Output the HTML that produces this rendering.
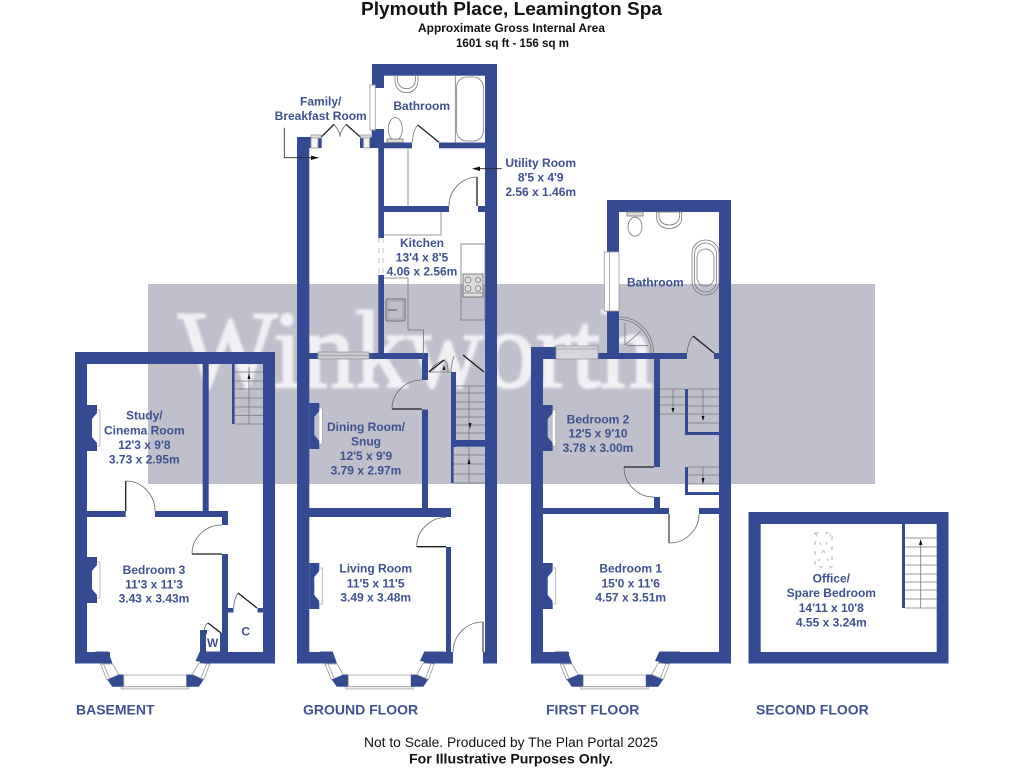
<!DOCTYPE html>
<html><head><meta charset="utf-8">
<style>
html,body{margin:0;padding:0;background:#fff;width:1024px;height:768px;overflow:hidden}
svg{display:block;filter:blur(.35px)}
.r{font:bold 12px "Liberation Sans",sans-serif;fill:#3e5191;text-anchor:middle}
.f{font:bold 14px "Liberation Sans",sans-serif;fill:#3e5191}
.t{font-family:"Liberation Sans",sans-serif;fill:#111;text-anchor:middle}
</style></head><body>
<svg width="1024" height="768" viewBox="0 0 1024 768" xmlns="http://www.w3.org/2000/svg">
<defs>
<filter id="b" x="-5%" y="-5%" width="110%" height="110%"><feGaussianBlur stdDeviation="1.2"/></filter>
<g id="bay">
 <polygon points="332.7,651.5 337,663.5 320,663.5 320,651.5" fill="#344b94"/>
 <polygon points="325,664 337,664 343.5,675 331.5,680" fill="#fff" stroke="#999" stroke-width=".8"/>
 <line x1="328" y1="664" x2="334" y2="678" stroke="#999" stroke-width=".8"/>
 <polygon points="331.7,679.5 343.5,674.5 348.3,674.5 348.3,686.7 336.7,686.7" fill="#344b94"/>
 <rect x="348.3" y="675" width="62.7" height="11.7" fill="#fff" stroke="#aaa" stroke-width=".8"/>
 <rect x="345.7" y="686.7" width="67.6" height="2.3" fill="#eee" stroke="#999" stroke-width=".7"/>
 <polygon points="411,674.5 416.7,674.5 428.3,679.5 423.3,686.7 411,686.7" fill="#344b94"/>
 <polygon points="416.7,674.5 423.3,663 434.3,664 428.3,679.5" fill="#fff" stroke="#999" stroke-width=".8"/>
 <line x1="431" y1="664" x2="425.5" y2="678" stroke="#999" stroke-width=".8"/>
 <polygon points="424.3,651.5 420,661 433.3,663.5 445,663.5 445,651.5" fill="#344b94"/>
</g>
<g id="fp">
 <polygon points="0,0 10,0 10,8 5,14 5,32 10,38 10,46 0,46" fill="#344b94"/>
 <path d="M10,5H13V41H10" fill="#fff" stroke="#aaa" stroke-width=".8"/>
</g>
</defs>

<!-- watermark -->
<rect x="148" y="284" width="727" height="200" fill="#bfc0cb"/>
<text x="178" y="387" font-family="Liberation Serif,serif" font-size="110" fill="#f1f1f5" stroke="#f1f1f5" stroke-width="2" textLength="475" lengthAdjust="spacingAndGlyphs" filter="url(#b)">Winkworth</text>

<!-- titles -->
<text class="t" x="511.5" y="15" font-size="18" font-weight="bold" textLength="301" lengthAdjust="spacingAndGlyphs">Plymouth Place, Leamington Spa</text>
<text class="t" x="511.5" y="32" font-size="12" font-weight="bold" textLength="187" lengthAdjust="spacingAndGlyphs">Approximate Gross Internal Area</text>
<text class="t" x="512.5" y="47" font-size="12" font-weight="bold" textLength="113" lengthAdjust="spacingAndGlyphs">1601 sq ft - 156 sq m</text>
<text class="t" x="511" y="747" font-size="14" textLength="294" lengthAdjust="spacingAndGlyphs">Not to Scale. Produced by The Plan Portal 2025</text>
<text class="t" x="511" y="763.5" font-size="14" font-weight="bold" textLength="204" lengthAdjust="spacingAndGlyphs">For Illustrative Purposes Only.</text>

<g fill="#344b94">
<!-- BASEMENT walls -->
<rect x="75" y="352" width="200" height="12"/>
<rect x="75" y="352" width="12" height="311"/>
<rect x="263" y="352" width="12" height="311"/>
<rect x="75" y="652" width="35" height="11.5"/>
<rect x="202.7" y="364" width="6" height="147"/>
<rect x="87" y="511" width="38.7" height="6"/>
<rect x="155" y="511" width="73" height="6"/>
<rect x="222" y="517" width="6" height="8"/>
<rect x="222" y="554" width="6" height="98"/>
<rect x="200" y="652" width="75" height="11.5"/>
<rect x="228" y="608" width="5.5" height="4.5"/>
<rect x="257.5" y="608" width="5.5" height="4.5"/>
<rect x="200" y="630" width="6" height="22"/>
<rect x="200" y="630" width="7" height="4"/>
<rect x="220" y="633" width="2" height="19"/>
<rect x="232" y="364" width="2.6" height="60"/>

<!-- GROUND walls -->
<rect x="297" y="137" width="12.3" height="526"/>
<rect x="297" y="137" width="14" height="11"/>
<rect x="318" y="137" width="3.7" height="11"/>
<rect x="360" y="137" width="3.5" height="11"/>
<rect x="371.7" y="129" width="12.3" height="19"/>
<rect x="369.5" y="137" width="3" height="11"/>
<rect x="378.3" y="148" width="5.7" height="90"/>
<rect x="378.3" y="275" width="5.7" height="78"/>
<rect x="372" y="64" width="125" height="11.7"/>
<rect x="372" y="64" width="12" height="24"/>
<rect x="485" y="64" width="12" height="599"/>
<rect x="384" y="142.5" width="28" height="5.8"/>
<rect x="439" y="142.5" width="46" height="5.8"/>
<rect x="384" y="206" width="65" height="6"/>
<rect x="478" y="206" width="7" height="6"/>
<rect x="309" y="353" width="9" height="6"/>
<rect x="369" y="353" width="59" height="6"/>
<rect x="422" y="353" width="6" height="27"/>
<rect x="422" y="409.5" width="6" height="98.5"/>
<rect x="309" y="508" width="142" height="9"/>
<rect x="446" y="547" width="5" height="105"/>
<rect x="297" y="652" width="36" height="11.5"/>
<rect x="424" y="652" width="29" height="11.5"/>
<rect x="483" y="652" width="14" height="11.5"/>
<rect x="451" y="372" width="5" height="75"/>
<rect x="451" y="447" width="2.6" height="36"/>
<rect x="456" y="440" width="29" height="6.7"/>

<!-- FIRST walls -->
<rect x="607" y="200" width="124" height="12"/>
<rect x="607" y="200" width="12" height="52"/>
<rect x="607" y="311" width="12" height="48"/>
<rect x="719" y="200" width="12" height="463"/>
<rect x="531" y="347" width="12" height="316"/>
<rect x="531" y="347" width="25" height="12"/>
<rect x="598" y="353" width="89" height="6"/>
<rect x="714" y="353" width="5" height="6"/>
<rect x="654" y="359" width="6" height="108"/>
<rect x="654" y="497" width="6" height="11"/>
<rect x="543" y="508" width="126" height="6"/>
<rect x="699" y="508" width="20" height="6"/>
<rect x="685" y="389" width="3" height="46"/>
<rect x="685" y="432" width="34" height="3"/>
<rect x="685" y="467" width="3" height="28"/>
<rect x="685" y="492" width="34" height="3"/>
<rect x="531" y="652" width="38" height="11.5"/>
<rect x="659" y="652" width="72" height="11.5"/>

<!-- SECOND walls -->
<path fill-rule="evenodd" d="M748.5,512H948.5V663.5H748.5ZM760.7,524V652H936.7V524Z"/>
<rect x="902" y="524" width="3" height="84"/>
</g>

<!-- bays -->
<use href="#bay" x="-224.5"/>
<use href="#bay"/>
<use href="#bay" x="235"/>
<!-- fireplaces -->
<use href="#fp" x="87" y="405"/>
<use href="#fp" x="87" y="557"/>
<use href="#fp" x="309.3" y="403"/>
<use href="#fp" x="309.3" y="563"/>
<use href="#fp" x="542.7" y="405"/>
<use href="#fp" x="542.7" y="563"/>

<!-- windows -->
<g fill="#fff" stroke="#999" stroke-width=".8">
<rect x="311" y="135" width="7" height="13" fill="#f2f2f2"/>
<rect x="311" y="135" width="10" height="3" fill="#ddd"/>
<rect x="363.5" y="137" width="6" height="11" fill="#f2f2f2"/>
<rect x="360.5" y="135" width="10" height="3" fill="#ddd"/>
<rect x="370" y="85" width="5.3" height="45"/>
<rect x="604.3" y="252" width="14.7" height="59"/>
<line x1="609.5" y1="252" x2="609.5" y2="311"/>
<rect x="318" y="352" width="51" height="7" fill="#c9c9d3"/>
<line x1="318" y1="355.5" x2="369" y2="355.5"/>
<rect x="556" y="346" width="42" height="13" fill="#d6d6de"/>
<line x1="556" y1="349" x2="598" y2="349"/>
</g>

<!-- thin lines: fixtures -->
<g fill="none" stroke="#777" stroke-width=".8">
<!-- utility & kitchen -->
<line x1="408" y1="148" x2="408" y2="206"/>
<path d="M384,235H441V212"/>
<rect x="461" y="244" width="24" height="76"/>
<rect x="463" y="274" width="20" height="23" fill="#ddd" stroke="#666"/>
<circle cx="468" cy="280" r="3"/><circle cx="478" cy="280" r="2.5"/><circle cx="468" cy="288.5" r="3"/><circle cx="478" cy="288.5" r="2.8"/>
<line x1="463" y1="293" x2="483" y2="293"/>
<path d="M384,278H408V330H423.5V355"/>
<rect x="386" y="299" width="19" height="22" rx="1.5" stroke="#555"/>
<rect x="388" y="301" width="15" height="18" stroke="#999"/>
<path d="M388,310H397" stroke="#333"/>
<!-- ground bathroom -->
<line x1="455.3" y1="76" x2="455.3" y2="142.5"/>
<rect x="456.7" y="77" width="26.6" height="64" rx="10"/>
<path d="M395,76V80C395,97 418,97 418,80V76"/>
<path d="M397.5,76V79C397.5,92 415.5,92 415.5,79V76"/>
<ellipse cx="395.3" cy="129" rx="7" ry="11.5"/>
<rect x="387" y="139" width="16" height="3.5" fill="#ddd"/>
<path d="M412.3,142.5 C413,133 415,128 417.7,125"/>
<!-- kitchen dashed -->
<path d="M379,238V275M383,238V275" stroke="#ccc" stroke-dasharray="5 5" stroke-width="1.2"/>
<!-- ground stair -->
<path d="M456,386H485M456,393H485M456,402H485M456,409H485M456,417H485M456,425H485M456,433H485M469,386V440"/>
<path d="M453.5,455H485M453.5,464H485M453.5,474H485M453.5,483H485M469,447V483"/>
<path d="M429,372H451M444,360C447,362 448,366 448,372M429,372C436,362 440,362 444,360"/>
<path d="M454,356 C452,362 451,367 451,372" />
<!-- basement stair -->
<path d="M234.6,372H263M234.6,381H263M234.6,389H263M234.6,398H263M234.6,407H263M234.6,415.5H263M234.6,424H263M249,367V424"/>
<!-- first floor stairs -->
<path d="M660,389H685M660,397H685M660,405H685M660,414H685M673,389V410"/>
<path d="M688,389H719M688,397H719M688,406H719M688,414H719M688,423H719M703,389V420"/>
<path d="M688,467H719M688,475H719M688,484H719M703,467V484"/>
<!-- first bath -->
<path d="M656.7,212H681.7V218C681.7,232 656.7,232 656.7,218Z"/>
<path d="M659,212V216C659,228 679.5,228 679.5,216V212"/>
<ellipse cx="635" cy="226.7" rx="7" ry="9.5"/>
<rect x="627" y="212" width="16" height="4" fill="#ddd"/>
<rect x="692" y="240" width="27" height="55" rx="13.5"/>
<rect x="694.5" y="243" width="22" height="49" rx="11"/>
<rect x="697" y="249" width="17" height="37" rx="8.5"/>
<path d="M619,317A34,36 0 0 1 653.5,353"/>
<path d="M619,319.5A32,33 0 0 1 651,353"/>
<path d="M625,323V345M627,345.7H648M625,345L641,331"/>
<!-- second stair -->
<path d="M905,538H937M905,547H937M905,556H937M905,565H937M905,574H937M905,582H937M905,590H937M905,599H937M905,608H937M920.7,541V608"/>
<!-- skylight -->
<path d="M815,533H832V567H815Z" stroke="#999" stroke-dasharray="4 6"/>
<path d="M816,534L831,566M831,534L816,566" stroke="#aaa" stroke-dasharray="3 6"/>
</g>

<!-- door arcs -->
<g fill="none" stroke="#666" stroke-width=".8">
<path d="M477,177A29,29 0 0 0 449,206"/>
<path d="M392,409A30,29 0 0 1 422,380"/>
<path d="M416.7,546.7A29.3,29.3 0 0 1 446,517.5"/>
<path d="M483,622A30,30 0 0 0 453,652"/>
<path d="M125.7,481A29.3,30 0 0 1 155,511"/>
<path d="M192,554A30,29 0 0 1 222,525"/>
<path d="M624,467A30,30 0 0 0 654,497"/>
<path d="M669,543A30,29 0 0 0 699,514"/>
<path d="M233.5,608C234,602 236,596 238,593"/>
<path d="M687,353C688,344 690,340 693,336"/>
<path d="M334,124.3C338,130 340,132 340,136.7M346,124.3C342,130 340,132 340,136.7"/>
<path d="M204,630C205,626 206,624 208,623"/>
</g>
<!-- door leaves -->
<g stroke="#1c1c1c" stroke-width="1.3" fill="none">
<path d="M477,177V206"/>
<path d="M392,409H422"/>
<path d="M416.7,546.7H446"/>
<path d="M483,622V652" stroke="#555"/>
<path d="M125.7,481V511"/>
<path d="M192,554H222"/>
<path d="M624,467H654"/>
<path d="M669,514V543" stroke="#444"/>
<path d="M238,593L257,608"/>
<path d="M693,336L714,353"/>
<path d="M417.7,125L439,142.3"/>
<path d="M321.7,136.7L334,124.3M346,124.3L360,136.7"/>
<path d="M208,623L221,633"/>
<path d="M463,355L484,372"/>
<path d="M429,372L444,360"/>
</g>

<!-- leaders & arrows -->
<g fill="none" stroke="#222" stroke-width=".8">
<path d="M284.3,127.7V157.7H313"/>
<path d="M501.7,168.7H478"/>
</g>
<g fill="#111">
<polygon points="319,157.7 311,155.5 311,160"/>
<polygon points="472,168.7 480,166.5 480,171"/>
<polygon points="249,373 247.5,379 250.5,379"/>
<polygon points="470,429 468.5,423 471.5,423"/>
<polygon points="469,458 467.5,464 470.5,464"/>
<polygon points="673,413 671.5,408 674.5,408"/>
<polygon points="703,421 701.5,416 704.5,416"/>
<polygon points="703,484 701.5,478 704.5,478"/>
<polygon points="920.7,539 919,545 922.4,545"/>
<polygon points="444,365 442.5,370 445.5,370"/>
</g>

<!-- room labels -->
<text class="r" x="320.7" y="105.5">Family/</text>
<text class="r" x="320.7" y="120">Breakfast Room</text>
<text class="r" x="421.7" y="110">Bathroom</text>
<text class="r" x="540.7" y="167">Utility Room</text>
<text class="r" x="540.7" y="181.5">8'5 x 4'9</text>
<text class="r" x="540.7" y="196">2.56 x 1.46m</text>
<text class="r" x="422" y="247">Kitchen</text>
<text class="r" x="422" y="261.5">13'4 x 8'5</text>
<text class="r" x="422" y="275.7">4.06 x 2.56m</text>
<text class="r" x="655.3" y="286.7">Bathroom</text>
<text class="r" x="144.3" y="419.3">Study/</text>
<text class="r" x="144.3" y="434.3">Cinema Room</text>
<text class="r" x="144.3" y="449">12'3 x 9'8</text>
<text class="r" x="144.3" y="463.3">3.73 x 2.95m</text>
<text class="r" x="154" y="574">Bedroom 3</text>
<text class="r" x="154" y="588.3">11'3 x 11'3</text>
<text class="r" x="154" y="602.7">3.43 x 3.43m</text>
<text class="r" x="212.7" y="647">W</text>
<text class="r" x="245.7" y="635.7">C</text>
<text class="r" x="366" y="431">Dining Room/</text>
<text class="r" x="366" y="445.7">Snug</text>
<text class="r" x="366" y="460">12'5 x 9'9</text>
<text class="r" x="366" y="474.3">3.79 x 2.97m</text>
<text class="r" x="375.7" y="572.7">Living Room</text>
<text class="r" x="375.7" y="587.3">11'5 x 11'5</text>
<text class="r" x="375.7" y="601.7">3.49 x 3.48m</text>
<text class="r" x="598" y="423.3">Bedroom 2</text>
<text class="r" x="598" y="437.7">12'5 x 9'10</text>
<text class="r" x="598" y="452">3.78 x 3.00m</text>
<text class="r" x="630.7" y="572.7">Bedroom 1</text>
<text class="r" x="630.7" y="587.3">15'0 x 11'6</text>
<text class="r" x="630.7" y="601.7">4.57 x 3.51m</text>
<text class="r" x="831.3" y="582.3">Office/</text>
<text class="r" x="831.3" y="597">Spare Bedroom</text>
<text class="r" x="831.3" y="612">14'11 x 10'8</text>
<text class="r" x="831.3" y="626.3">4.55 x 3.24m</text>

<!-- floor labels -->
<text class="f" x="76" y="714.7">BASEMENT</text>
<text class="f" x="303" y="714.7">GROUND FLOOR</text>
<text class="f" x="546" y="714.7">FIRST FLOOR</text>
<text class="f" x="756" y="714.7">SECOND FLOOR</text>
</svg>
</body></html>
